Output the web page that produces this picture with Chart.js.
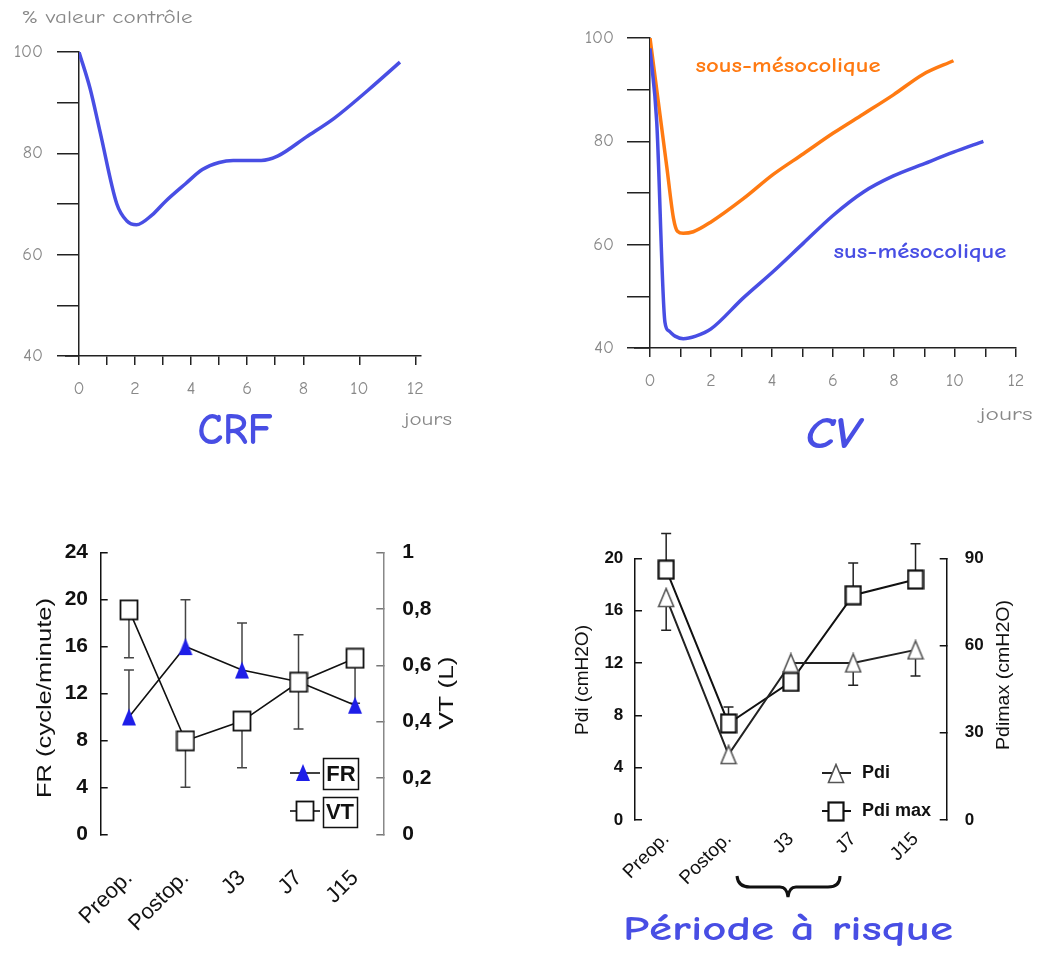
<!DOCTYPE html>
<html>
<head>
<meta charset="utf-8">
<script src="https://cdn.jsdelivr.net/npm/chart.js@4.4.0/dist/chart.umd.min.js"></script>
<style>
  body { margin: 0; background: #fff; }
  canvas { position: absolute; left: 0; top: 0; }
</style>
</head>
<body>
<canvas id="crf" width="1045" height="954"></canvas>
<canvas id="cv" width="1045" height="954"></canvas>
<canvas id="frvt" width="1045" height="954"></canvas>
<canvas id="pdi" width="1045" height="954"></canvas>
<script>
// --- data ---
const crfDays   = [0, 0.4, 0.75, 1.35, 1.7, 2.05, 2.6, 3.1, 3.8, 4.4, 5, 5.5, 6.5, 7.1, 8.1, 9.1, 10.3, 11.45];
const crfValues = [100, 92.7, 84.3, 70, 66.7, 65.9, 67.8, 70.6, 74, 76.8, 78.2, 78.6, 78.6, 79.5, 83.2, 86.9, 92.4, 98];

const sousDays   = [0, 0.55, 0.77, 0.9, 1.09, 1.42, 2, 3.06, 4.04, 5.03, 6.01, 7, 7.98, 8.96, 9.95];
const sousValues = [100, 75.1, 65.1, 62.6, 62.2, 62.5, 64.4, 68.9, 73.6, 77.6, 81.6, 85.3, 89, 93, 95.6];
const susDays    = [0, 0.22, 0.49, 0.62, 0.82, 1.09, 1.5, 2, 3.06, 4.04, 5.03, 6.01, 7, 7.98, 9, 9.95, 10.93];
const susValues  = [98, 83.8, 45, 43.3, 42.3, 41.8, 42.3, 43.7, 49.7, 54.8, 60.3, 65.7, 70.2, 73.3, 75.7, 77.9, 80];

const periods = ["Preop.", "Postop.", "J3", "J7", "J15"];
const frValues = [10, 16, 14, 13, 11];
const frErrUp  = [14, 20, 18, 17, null];
const vtValues = [0.797, 0.332, 0.402, 0.54, 0.625];
const vtErrDown = [0.627, 0.167, 0.236, 0.374, 0.465];

const pdiValues    = [17, 5, 12, 12, 13];
const pdiErrDown   = [14.5, null, null, 10.3, 11];
const pdimaxValues = [86.1, 33.2, 47.5, 77.3, 82.7];
const pdimaxErrUp  = [98.5, 38.9, null, 88.4, 95];

const crfTicks = [0, 2, 4, 6, 8, 10, 12];
// --- end data ---

const W = 1045, H = 954;
const COMIC = '"Comic Sans MS", "Comic Neue", "DejaVu Sans", sans-serif';
const ARIAL = '"Liberation Sans", Arial, sans-serif';
const BLUE = 'rgb(72,78,228)';
const ORANGE = '#ff7a12';
const GREY = '#888';

Chart.defaults.animation = false;
Chart.defaults.plugins.legend.display = false;
Chart.defaults.plugins.tooltip.enabled = false;

function area(l, t, r, b, yW, y2W, xH) {
  return { left: l - yW, top: t, right: W - r - y2W, bottom: H - b - xH };
}

function txt(ctx, o) {
  ctx.save();
  ctx.font = o.font;
  ctx.fillStyle = o.color || '#111';
  ctx.textAlign = o.align || 'center';
  ctx.textBaseline = 'middle';
  ctx.translate(o.x, o.y);
  if (o.rot) ctx.rotate(o.rot);
  if (o.w) ctx.scale(o.w / ctx.measureText(o.text).width, 1);
  ctx.fillText(o.text, 0, 0);
  ctx.restore();
}

function line(ctx, x1, y1, x2, y2, color, lw) {
  ctx.save();
  ctx.strokeStyle = color; ctx.lineWidth = lw;
  ctx.beginPath(); ctx.moveTo(x1, y1); ctx.lineTo(x2, y2); ctx.stroke();
  ctx.restore();
}

function pts(xs, ys) { return xs.map((x, i) => ({ x: x, y: ys[i] })); }

function marker(w, h, draw) {
  const c = document.createElement('canvas');
  c.width = w; c.height = h;
  draw(c.getContext('2d'), w, h);
  return c;
}
const triBlue = marker(16, 19, (c, w, h) => {
  c.fillStyle = '#1e1ee8';
  c.beginPath(); c.moveTo(w / 2, 1); c.lineTo(w - 1, h - 1); c.lineTo(1, h - 1); c.closePath(); c.fill();
});
const sqOpen = marker(20, 22, (c, w, h) => {
  c.fillStyle = '#fff'; c.fillRect(1, 1, w - 2, h - 2);
  c.strokeStyle = '#111'; c.lineWidth = 1.8; c.strokeRect(1.5, 1.5, w - 3, h - 3);
});
const triOpen = marker(18, 21, (c, w, h) => {
  c.fillStyle = '#fff'; c.strokeStyle = '#555'; c.lineWidth = 1.6;
  c.beginPath(); c.moveTo(w / 2, 1.5); c.lineTo(w - 1.5, h - 1.5); c.lineTo(1.5, h - 1.5); c.closePath();
  c.fill(); c.stroke();
});
const sqOpen2 = marker(18, 21, (c, w, h) => {
  c.fillStyle = '#fff'; c.fillRect(1, 1, w - 2, h - 2);
  c.strokeStyle = '#111'; c.lineWidth = 2.2; c.strokeRect(1.5, 1.5, w - 3, h - 3);
});

function errBars(ctx, scaleX, scaleY, vals, ends, color) {
  ctx.save();
  ctx.strokeStyle = color; ctx.lineWidth = 1.5;
  vals.forEach((v, i) => {
    if (ends[i] == null) return;
    const x = scaleX.getPixelForValue(i);
    const y1 = scaleY.getPixelForValue(v), y2 = scaleY.getPixelForValue(ends[i]);
    ctx.beginPath();
    ctx.moveTo(x, y1); ctx.lineTo(x, y2);
    ctx.moveTo(x - 5, y2); ctx.lineTo(x + 5, y2);
    ctx.stroke();
  });
  ctx.restore();
}

// ---------- CRF ----------
new Chart(document.getElementById('crf'), {
  type: 'line',
  data: { datasets: [{ data: pts(crfDays, crfValues), borderColor: BLUE, borderWidth: 3.5,
    pointRadius: 0, cubicInterpolationMode: 'monotone' }] },
  options: {
    responsive: false,
    layout: { padding: area(79, 52, 421, 356, 79, 0, 60) },
    scales: {
      x: { type: 'linear', min: 0, max: 12.2,
        ticks: { stepSize: 1, includeBounds: false, color: GREY, font: { family: COMIC, size: 18 }, padding: 13,
          callback: v => crfTicks.includes(v) ? v : '' },
        grid: { drawOnChartArea: false, tickLength: 9, lineWidth: 1.5,
          color: c => (c.tick && (c.tick.value === 9 || c.tick.value === 11)) ? 'rgba(0,0,0,0)' : '#222' },
        border: { color: '#222', width: 1.5 },
        afterFit: s => { s.height = 60; } },
      y: { min: 40, max: 100,
        ticks: { stepSize: 10, color: GREY, font: { family: COMIC, size: 18 }, padding: 14,
          callback: v => v % 20 === 0 ? v : '' },
        grid: { drawOnChartArea: false, tickLength: 22, color: '#222', lineWidth: 1.5 },
        border: { color: '#222', width: 1.5 },
        afterFit: s => { s.width = 79; } }
    }
  },
  plugins: [{ id: 'crfText', afterDraw(chart) {
    const ctx = chart.ctx;
    line(ctx, 65, 356, 79, 356, '#222', 1.5);
    txt(ctx, { text: '% valeur contrôle', x: 107, y: 18, font: '18px ' + COMIC, color: GREY, w: 171 });
    txt(ctx, { text: 'jours', x: 428, y: 420, font: '18px ' + COMIC, color: GREY, w: 48 });
    txt(ctx, { text: 'CRF', x: 235, y: 432, font: 'bold 44px ' + COMIC, color: BLUE, w: 75 });
  } }]
});

// ---------- CV ----------
new Chart(document.getElementById('cv'), {
  type: 'line',
  data: { datasets: [
    { data: pts(susDays, susValues), borderColor: BLUE, borderWidth: 3.5, pointRadius: 0, cubicInterpolationMode: 'monotone' },
    { data: pts(sousDays, sousValues), borderColor: ORANGE, borderWidth: 3.5, pointRadius: 0, cubicInterpolationMode: 'monotone' }
  ] },
  options: {
    responsive: false,
    layout: { padding: area(650, 38, 1016, 348, 80, 0, 60) },
    scales: {
      x: { type: 'linear', min: 0, max: 12,
        ticks: { stepSize: 1, color: GREY, font: { family: COMIC, size: 18 }, padding: 13,
          callback: v => v % 2 === 0 ? v : '' },
        grid: { drawOnChartArea: false, tickLength: 9, lineWidth: 1.5, color: '#222' },
        border: { color: '#222', width: 1.5 },
        afterFit: s => { s.height = 60; } },
      y: { min: 40, max: 100,
        ticks: { stepSize: 10, color: GREY, font: { family: COMIC, size: 18 }, padding: 13,
          callback: v => v % 20 === 0 ? v : '' },
        grid: { drawOnChartArea: false, tickLength: 23, color: '#222', lineWidth: 1.5 },
        border: { color: '#222', width: 1.5 },
        afterFit: s => { s.width = 80; } }
    }
  },
  plugins: [{ id: 'cvText', afterDraw(chart) {
    const ctx = chart.ctx;
    line(ctx, 634, 348, 650, 348, '#222', 1.5);
    txt(ctx, { text: 'jours', x: 1006, y: 415, font: '18px ' + COMIC, color: GREY, w: 53 });
    txt(ctx, { text: 'CV', x: 833, y: 436, font: 'italic bold 44px ' + COMIC, color: BLUE, w: 55 });
    txt(ctx, { text: 'sous-mésocolique', x: 788, y: 66, font: 'bold 21px ' + COMIC, color: ORANGE, w: 185 });
    txt(ctx, { text: 'sus-mésocolique', x: 920, y: 252, font: 'bold 21px ' + COMIC, color: BLUE, w: 173 });
  } }]
});

// ---------- FR / VT ----------
new Chart(document.getElementById('frvt'), {
  type: 'line',
  data: { labels: periods, datasets: [
    { data: vtValues, yAxisID: 'y2', borderColor: '#111', borderWidth: 1.6, pointStyle: sqOpen, pointRadius: 10 },
    { data: frValues, yAxisID: 'y', borderColor: '#111', borderWidth: 1.6, pointStyle: triBlue, pointRadius: 10 }
  ] },
  options: {
    responsive: false,
    layout: { padding: area(100.7, 552.7, 383.3, 834.3, 60, 60, 115) },
    scales: {
      x: { offset: true, grid: { display: false }, border: { display: false },
        ticks: { autoSkip: false, minRotation: 45, maxRotation: 45, color: '#111', padding: 23,
          font: { family: ARIAL, size: 22 } },
        afterFit: s => { s.height = 115; } },
      y: { position: 'left', min: 0, max: 24,
        ticks: { stepSize: 4, color: '#111', padding: 19.7, font: { family: ARIAL, size: 21, weight: 'bold' } },
        grid: { drawOnChartArea: false, tickLength: -7, color: '#111', lineWidth: 1.5 },
        border: { color: '#111', width: 1.5 },
        afterFit: s => { s.width = 60; } },
      y2: { position: 'right', min: 0, max: 1,
        ticks: { stepSize: 0.2, color: '#111', padding: 26, font: { family: ARIAL, size: 21, weight: 'bold' },
          callback: v => (v === 0 || v === 1) ? String(v) : v.toFixed(1).replace('.', ',') },
        grid: { drawOnChartArea: false, tickLength: -7, color: '#777', lineWidth: 1.5 },
        border: { color: '#888', width: 1.5 },
        afterFit: s => { s.width = 60; } }
    }
  },
  plugins: [{ id: 'frvtExtra',
    beforeDatasetsDraw(chart) {
      const ctx = chart.ctx, s = chart.scales;
      errBars(ctx, s.x, s.y, frValues, frErrUp, '#444');
      errBars(ctx, s.x, s.y2, vtValues, vtErrDown, '#444');
    },
    afterDraw(chart) {
      const ctx = chart.ctx;
      txt(ctx, { text: 'FR (cycle/minute)', x: 45, y: 698, rot: -Math.PI / 2, font: '20px ' + ARIAL, w: 200 });
      txt(ctx, { text: 'VT (L)', x: 447, y: 693, rot: -Math.PI / 2, font: '21px ' + ARIAL, w: 73 });
      // legend
      line(ctx, 290, 773, 320, 773, '#111', 1.6);
      ctx.drawImage(triBlue, 303 - 8, 773 - 10);
      line(ctx, 290, 811, 320, 811, '#111', 1.6);
      ctx.drawImage(sqOpen, 305 - 10, 811 - 11);
      ctx.save(); ctx.strokeStyle = '#111'; ctx.lineWidth = 1.5;
      ctx.strokeRect(323.5, 758.5, 35, 31); ctx.strokeRect(323.5, 797.5, 34, 30);
      ctx.restore();
      txt(ctx, { text: 'FR', x: 341, y: 775, font: 'bold 22px ' + ARIAL });
      txt(ctx, { text: 'VT', x: 340, y: 813, font: 'bold 22px ' + ARIAL });
    } }]
});

// ---------- Pdi ----------
new Chart(document.getElementById('pdi'), {
  type: 'line',
  data: { labels: periods, datasets: [
    { data: pdiValues, yAxisID: 'y', borderColor: '#222', borderWidth: 2, pointStyle: triOpen, pointRadius: 10 },
    { data: pdimaxValues, yAxisID: 'y2', borderColor: '#111', borderWidth: 2, pointStyle: sqOpen2, pointRadius: 10 }
  ] },
  options: {
    responsive: false,
    layout: { padding: area(635, 558.3, 946.7, 820, 60, 60, 80) },
    scales: {
      x: { offset: true, grid: { display: false }, border: { display: false },
        ticks: { autoSkip: false, minRotation: 45, maxRotation: 45, color: '#111', padding: 0,
          font: { family: ARIAL, size: 19 } },
        afterFit: s => { s.height = 80; } },
      y: { position: 'left', min: 0, max: 20,
        ticks: { stepSize: 4, color: '#111', padding: 18.7, font: { family: ARIAL, size: 17, weight: 'bold' } },
        grid: { drawOnChartArea: false, tickLength: -7, color: '#111', lineWidth: 1.5 },
        border: { color: '#111', width: 1.5 },
        afterFit: s => { s.width = 60; } },
      y2: { position: 'right', min: 0, max: 90,
        ticks: { stepSize: 30, color: '#111', padding: 25, font: { family: ARIAL, size: 17, weight: 'bold' } },
        grid: { drawOnChartArea: false, tickLength: -7, color: '#111', lineWidth: 1.5 },
        border: { color: '#111', width: 1.5 },
        afterFit: s => { s.width = 60; } }
    }
  },
  plugins: [{ id: 'pdiExtra',
    beforeDatasetsDraw(chart) {
      const ctx = chart.ctx, s = chart.scales;
      errBars(ctx, s.x, s.y, pdiValues, pdiErrDown, '#222');
      errBars(ctx, s.x, s.y2, pdimaxValues, pdimaxErrUp, '#222');
    },
    afterDraw(chart) {
      const ctx = chart.ctx;
      txt(ctx, { text: 'Pdi (cmH2O)', x: 583, y: 680, rot: -Math.PI / 2, font: '18px ' + ARIAL, w: 110 });
      txt(ctx, { text: 'Pdimax (cmH2O)', x: 1004, y: 675, rot: -Math.PI / 2, font: '18px ' + ARIAL, w: 150 });
      // legend
      line(ctx, 822, 773, 851, 773, '#222', 2);
      ctx.drawImage(triOpen, 836 - 9, 773 - 10);
      line(ctx, 822, 811, 851, 811, '#111', 2);
      ctx.drawImage(sqOpen2, 836 - 9, 811 - 10);
      txt(ctx, { text: 'Pdi', x: 862, y: 773, align: 'left', font: 'bold 18px ' + ARIAL });
      txt(ctx, { text: 'Pdi max', x: 862, y: 811, align: 'left', font: 'bold 18px ' + ARIAL });
      // brace under J3..J7
      ctx.save();
      ctx.strokeStyle = '#111'; ctx.lineWidth = 3;
      ctx.beginPath();
      ctx.moveTo(737, 876); ctx.quadraticCurveTo(738, 887, 750, 887);
      ctx.lineTo(780, 887); ctx.quadraticCurveTo(787, 887, 788, 897);
      ctx.quadraticCurveTo(789, 887, 796, 887);
      ctx.lineTo(828, 887); ctx.quadraticCurveTo(840, 887, 840, 876);
      ctx.stroke();
      ctx.restore();
      txt(ctx, { text: 'Période à risque', x: 788, y: 930, font: 'bold 34px ' + COMIC, color: BLUE, w: 330 });
    } }]
});
</script>
</body>
</html>
